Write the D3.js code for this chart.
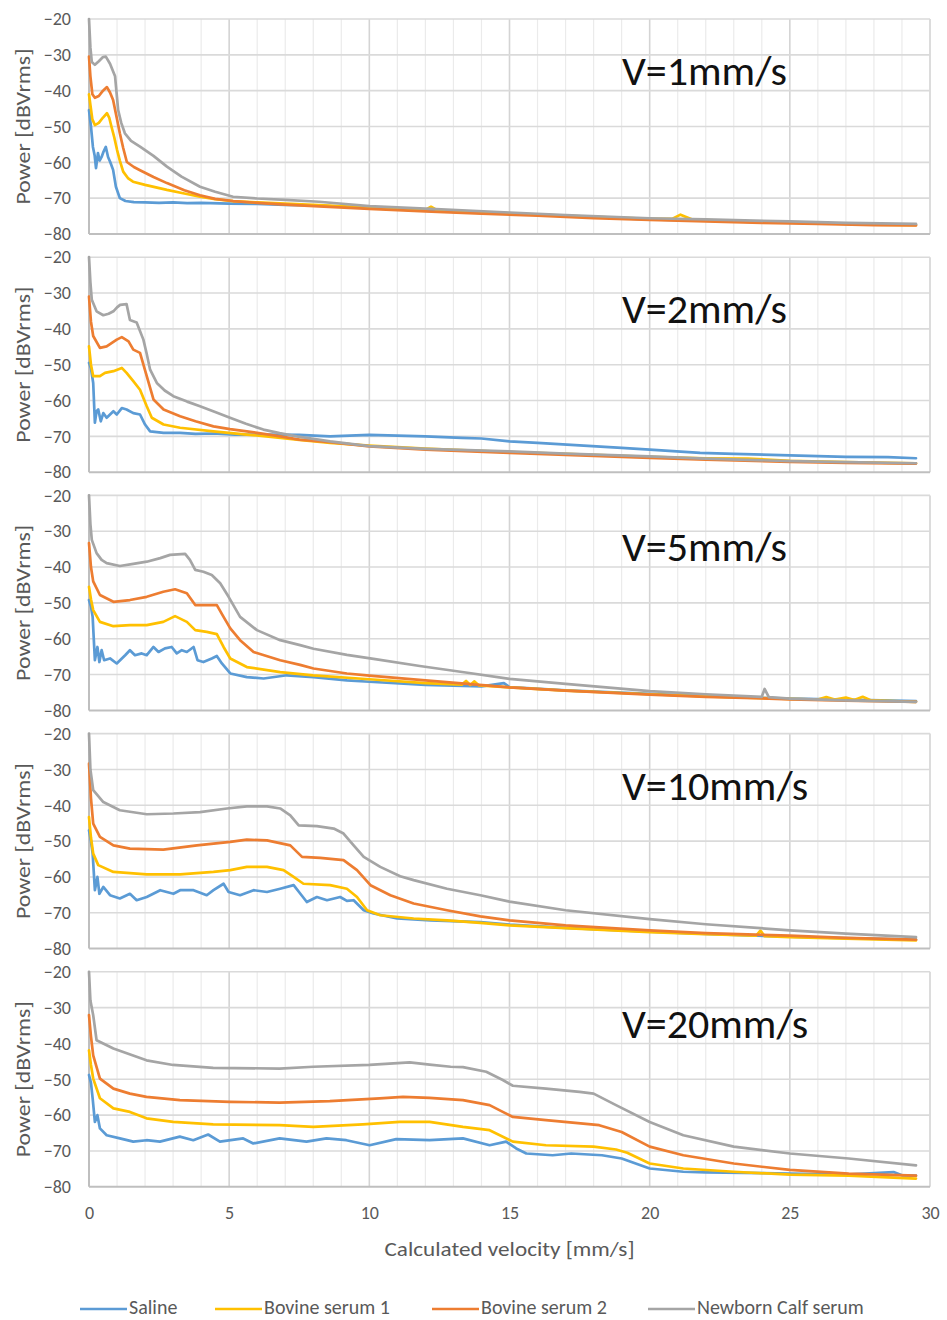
<!DOCTYPE html>
<html>
<head>
<meta charset="utf-8">
<script src="https://cdn.jsdelivr.net/npm/d3@7"></script>
<style>
  html, body { margin: 0; padding: 0; background: #fff; }
  svg { display: block; }
  text { font-family: Carlito, Calibri, Lato, "Open Sans", sans-serif; }
</style>
</head>
<body>
<svg id="chart" width="947" height="1320"></svg>
<script>
// ---- data: velocity [mm/s] vs power [dBVrms], one block per probe velocity ----
const panelLabels = ["V=1mm/s", "V=2mm/s", "V=5mm/s", "V=10mm/s", "V=20mm/s"];
const seriesNames = ["Saline", "Bovine serum 1", "Bovine serum 2", "Newborn Calf serum"];
const seriesColors = ["#5B9BD5", "#FFC000", "#ED7D31", "#A5A5A5"];
const yTicks = [-20, -30, -40, -50, -60, -70, -80];
const xTicks = [0, 5, 10, 15, 20, 25, 30];

// V = 1 mm/s
const saline1 = [[0,-45.4],[0.07,-50],[0.14,-55.7],[0.2,-58],[0.25,-61.6],[0.32,-57.4],[0.38,-59.5],[0.45,-58.5],[0.52,-57],[0.6,-55.7],[0.68,-58.5],[0.76,-60],[0.86,-62.1],[0.96,-66.8],[1.1,-70],[1.3,-70.8],[1.6,-71.1],[2,-71.2],[2.5,-71.3],[3,-71.2],[3.5,-71.4],[4,-71.3],[5,-71.5],[6,-71.6],[7,-71.9],[8,-72],[9,-72.4],[10,-72.8],[12,-73.5],[14,-74.1],[16,-74.7],[18,-75.3],[20,-75.9],[22,-76.3],[24,-76.7],[26,-77],[28,-77.3],[29.5,-77.4]];
const bovine1_1 = [[0,-41],[0.05,-44],[0.12,-48],[0.21,-49.6],[0.35,-49],[0.5,-47.5],[0.64,-46.3],[0.72,-47.5],[0.8,-50],[0.9,-53],[1.0,-56.5],[1.1,-59.5],[1.22,-62.6],[1.4,-64.5],[1.57,-65.4],[2,-66.3],[2.78,-67.7],[3.4,-68.7],[3.96,-69.6],[4.5,-70.3],[5.14,-70.8],[6,-71.2],[7,-71.5],[8.2,-71.9],[10,-72.6],[12,-73.3],[12.2,-72.4],[12.4,-73.3],[14,-73.9],[16,-74.6],[18,-75.2],[20,-75.8],[20.8,-75.8],[21.1,-74.6],[21.5,-75.9],[22,-76.1],[24,-76.6],[26,-77],[28,-77.4],[29.5,-77.5]];
const bovine2_1 = [[0,-30.5],[0.05,-36],[0.12,-41],[0.21,-42],[0.35,-41.5],[0.5,-40],[0.64,-39],[0.75,-40.5],[0.86,-42.6],[1.0,-48],[1.1,-51.9],[1.22,-56],[1.35,-59.9],[1.6,-61.3],[1.82,-62.2],[2.3,-64.1],[2.78,-65.8],[3.4,-67.8],[3.96,-69.2],[4.5,-70.2],[5.14,-70.8],[6,-71.3],[7,-71.8],[8.2,-72.3],[10,-73],[12,-73.7],[14,-74.3],[16,-74.9],[18,-75.6],[20,-76.1],[22,-76.5],[24,-76.9],[26,-77.2],[28,-77.5],[29.5,-77.6]];
const calf_1 = [[0,-20],[0.05,-28],[0.1,-32],[0.21,-32.8],[0.35,-31.8],[0.5,-30.6],[0.6,-30.5],[0.75,-32.5],[0.93,-36],[1.04,-45.4],[1.15,-49],[1.28,-51.9],[1.5,-54],[1.82,-55.6],[2.3,-58.2],[2.78,-61.2],[3.3,-64],[3.96,-66.8],[4.5,-68.2],[5.14,-69.6],[6,-70.1],[7,-70.5],[8.2,-71],[10,-72.2],[12,-72.9],[15,-74],[17,-74.7],[20,-75.6],[22,-75.9],[25,-76.5],[27,-76.9],[29.5,-77.2]];

// V = 2 mm/s
const saline2 = [[0,-49.5],[0.07,-51],[0.15,-55.1],[0.21,-66.2],[0.27,-63],[0.33,-62.5],[0.42,-65.8],[0.51,-63.5],[0.63,-64.8],[0.75,-63.9],[0.87,-63],[0.99,-63.9],[1.17,-62.1],[1.34,-62.5],[1.58,-63.5],[1.82,-63.9],[2.0,-66.7],[2.18,-68.6],[2.66,-69],[3.25,-69],[3.8,-69.3],[4.44,-69.2],[5.2,-69.5],[6.22,-69.5],[7.5,-69.6],[8.6,-70],[10,-69.6],[11,-69.8],[12,-70],[13.3,-70.4],[14,-70.6],[15,-71.4],[16,-71.8],[17.5,-72.5],[19,-73.2],[20,-73.7],[21.8,-74.6],[23,-74.9],[25,-75.3],[27,-75.7],[28.5,-75.8],[29.5,-76.1]];
const bovine1_2 = [[0,-44.9],[0.07,-50],[0.15,-53.2],[0.39,-53.2],[0.57,-52.3],[0.87,-51.8],[1.17,-50.9],[1.34,-52.3],[1.58,-54.6],[1.82,-57],[2.06,-61.6],[2.24,-64.8],[2.66,-66.7],[3.25,-67.6],[4.44,-68.6],[5.63,-69.5],[6.83,-70.4],[7.5,-71],[8.6,-71.8],[10,-72.6],[12,-73.4],[15,-74.4],[17,-74.9],[20,-75.7],[22,-76.1],[23.5,-76.2],[25,-76.8],[27,-77.2],[29.5,-77.5]];
const bovine2_2 = [[0,-31],[0.07,-38],[0.15,-42],[0.39,-45.3],[0.63,-44.9],[0.99,-43],[1.17,-42.3],[1.41,-43.5],[1.58,-45.8],[1.82,-46.7],[2.06,-53.2],[2.3,-59.7],[2.66,-62.5],[3.25,-64.4],[3.8,-65.8],[4.44,-67.2],[5.03,-68],[5.63,-68.6],[6.83,-70],[7.5,-70.9],[8.6,-71.6],[10,-72.8],[12,-73.7],[15,-74.6],[17,-75.2],[20,-76],[22,-76.5],[25,-77.1],[27,-77.4],[29.5,-77.6]];
const calf_2 = [[0,-20],[0.05,-27],[0.1,-31.9],[0.27,-35.1],[0.51,-36.2],[0.7,-35.8],[0.87,-35.1],[1.0,-34],[1.11,-33.3],[1.34,-33.1],[1.46,-37.5],[1.7,-38.2],[1.94,-43],[2.06,-47],[2.18,-51.4],[2.42,-55.1],[2.7,-57.2],[3.01,-58.8],[3.5,-60.3],[3.96,-61.6],[4.5,-63.2],[5.03,-64.8],[5.6,-66.5],[6.22,-68.1],[6.8,-69.1],[7.41,-70],[8.6,-71.4],[10,-72.7],[12,-73.5],[15,-74.2],[17,-74.8],[20,-75.6],[22,-76.2],[25,-76.9],[27,-77.2],[29.5,-77.5]];

// V = 5 mm/s
const saline3 = [[0,-49.2],[0.07,-51],[0.13,-53.9],[0.21,-66],[0.3,-62.3],[0.37,-66.5],[0.45,-63.2],[0.54,-66],[0.75,-65.5],[0.99,-66.9],[1.29,-64.6],[1.46,-63.2],[1.64,-64.6],[1.88,-64.1],[2.06,-64.6],[2.3,-62.3],[2.48,-63.7],[2.71,-62.7],[2.95,-62.3],[3.13,-64.1],[3.31,-63.2],[3.49,-63.7],[3.73,-62.3],[3.87,-66],[4.08,-66.5],[4.38,-65.5],[4.56,-64.8],[4.74,-66.9],[5.04,-69.7],[5.63,-70.7],[6.23,-71.1],[7.06,-70.2],[8.01,-70.7],[9.2,-71.6],[10,-72],[12,-72.9],[14,-73.3],[14.8,-72.4],[15,-73.5],[17,-74.4],[20,-75.4],[22,-76],[25,-76.7],[27,-77],[29.5,-77.4]];
const bovine1_3 = [[0,-45.5],[0.07,-49],[0.15,-52],[0.39,-55.3],[0.87,-56.5],[1.46,-56.2],[2.06,-56.2],[2.65,-55.3],[3.07,-53.7],[3.49,-55.3],[3.79,-57.6],[4.2,-58.1],[4.56,-58.7],[4.8,-62.3],[5.04,-65.5],[5.63,-67.9],[6.82,-69.3],[8,-70.2],[10,-71.3],[12,-72.4],[13.3,-72.8],[13.45,-71.8],[13.6,-72.9],[13.75,-71.9],[13.9,-73],[15,-73.6],[17,-74.5],[20,-75.5],[22,-76.1],[25,-76.8],[26,-77],[26.3,-76.3],[26.6,-77],[27,-76.4],[27.3,-77.1],[27.6,-76.2],[27.9,-77.2],[29.5,-77.6]];
const bovine2_3 = [[0,-33.3],[0.07,-40],[0.15,-44],[0.39,-47.8],[0.87,-49.7],[1.46,-49.2],[2.06,-48.3],[2.65,-46.9],[3.07,-46.2],[3.49,-47.3],[3.79,-50.6],[4.08,-50.6],[4.56,-50.6],[4.8,-53.9],[5.04,-57.1],[5.39,-60.4],[5.87,-63.7],[6.82,-66],[7.53,-67.3],[8.01,-68.3],[9.2,-69.7],[10,-70.3],[12,-71.6],[15,-73.6],[17,-74.5],[20,-75.6],[22,-76.2],[25,-76.9],[27,-77.3],[29.5,-77.6]];
const calf_3 = [[0,-20],[0.05,-28],[0.1,-32.4],[0.27,-36.1],[0.45,-38],[0.63,-38.9],[1.1,-39.7],[1.58,-39.1],[2.06,-38.5],[2.54,-37.5],[2.89,-36.6],[3.43,-36.3],[3.6,-38],[3.79,-40.8],[4.08,-41.3],[4.38,-42.2],[4.68,-44.5],[4.98,-48.3],[5.39,-53.9],[5.99,-57.6],[6.82,-60.4],[7.53,-61.8],[8.01,-62.8],[9.2,-64.5],[10.15,-65.6],[11.8,-67.6],[13.5,-69.5],[15,-71.2],[17,-72.6],[20,-74.6],[22,-75.5],[24,-76.2],[24.1,-74],[24.25,-76.3],[25,-76.7],[27,-77.2],[29.5,-77.6]];

// V = 10 mm/s
const saline4 = [[0,-47],[0.07,-50],[0.13,-53.5],[0.21,-63.7],[0.3,-60],[0.37,-64.7],[0.51,-62.8],[0.75,-65.1],[1.1,-66],[1.46,-64.7],[1.7,-66.5],[2.06,-65.6],[2.54,-63.7],[3.01,-64.7],[3.25,-63.7],[3.73,-63.7],[4.2,-65.1],[4.44,-63.7],[4.8,-61.9],[4.98,-64.2],[5.39,-65.1],[5.87,-63.7],[6.35,-64.2],[6.82,-63.3],[7.3,-62.3],[7.54,-64.7],[7.77,-67],[8.13,-65.6],[8.49,-66.5],[8.96,-65.6],[9.2,-66.7],[9.44,-66.5],[9.8,-69.3],[10.15,-70.2],[10.99,-71.6],[12.18,-72.1],[13.96,-72.6],[15,-73.3],[17,-74.2],[20,-75.3],[22,-75.9],[25,-76.7],[27,-77.1],[29.5,-77.5]];
const bovine1_4 = [[0,-43.3],[0.07,-49],[0.15,-53.5],[0.33,-56.7],[0.87,-58.6],[2.06,-59.3],[3.25,-59.3],[4.44,-58.6],[5.04,-58.1],[5.63,-57.2],[6.35,-57.2],[6.94,-58.1],[7.3,-60],[7.65,-61.9],[8.6,-62.3],[9.2,-63.3],[9.56,-65.6],[9.92,-69.3],[10.39,-70.7],[11.58,-71.6],[12.77,-72.1],[13.96,-72.8],[15,-73.5],[17,-74.3],[20,-75.4],[22,-76],[23.8,-76.4],[23.95,-75],[24.1,-76.5],[25,-76.8],[27,-77.2],[29.5,-77.7]];
const bovine2_4 = [[0,-28.4],[0.07,-38],[0.15,-45.1],[0.39,-48.8],[0.87,-51.2],[1.46,-52.1],[2.65,-52.4],[3.85,-51.2],[5.04,-50.2],[5.63,-49.6],[6.35,-49.8],[7.18,-51.2],[7.6,-54.4],[8.25,-54.7],[9.08,-55.3],[9.56,-58.1],[10.04,-62.3],[10.75,-65.1],[11.58,-67.4],[12.77,-69.3],[13.96,-71],[15,-72.1],[17,-73.5],[20,-74.9],[22,-75.7],[25,-76.4],[27,-77],[29.5,-77.5]];
const calf_4 = [[0,-20],[0.05,-30],[0.15,-35.8],[0.51,-39.1],[1.1,-41.4],[2.06,-42.5],[3.01,-42.3],[3.96,-41.9],[4.92,-40.9],[5.63,-40.3],[6.35,-40.3],[6.82,-40.9],[7.18,-42.8],[7.48,-45.6],[8.13,-45.8],[8.73,-46.5],[9.08,-47.9],[9.44,-51.2],[9.8,-54.4],[10.39,-57.2],[11.1,-59.8],[11.58,-60.9],[12.77,-63.3],[13.96,-65.1],[15,-66.9],[17,-69.3],[20,-71.8],[22,-73.2],[25,-74.9],[27,-75.8],[29.5,-76.8]];

// V = 20 mm/s
const saline5 = [[0,-48.8],[0.07,-51],[0.13,-55.3],[0.21,-61.9],[0.3,-60],[0.39,-63.7],[0.63,-65.6],[1.1,-66.5],[1.58,-67.4],[2.05,-67],[2.53,-67.4],[3.24,-66],[3.72,-67],[4.25,-65.4],[4.67,-67.4],[5.5,-66.5],[5.86,-67.9],[6.8,-66.5],[7.76,-67.4],[8.47,-66.5],[9.18,-67],[10.01,-68.4],[10.96,-66.7],[12.15,-67],[13.34,-66.5],[14.29,-68.4],[14.88,-67.4],[15.24,-69.3],[15.6,-70.7],[16.54,-71.2],[17.2,-70.7],[18.3,-71.2],[19,-72.1],[20,-74.9],[21.2,-75.8],[22,-76],[25,-76.3],[27,-76.6],[28.7,-75.9],[29,-76.8],[29.5,-76.9]];
const bovine1_5 = [[0,-41.9],[0.07,-46],[0.15,-49.8],[0.39,-55.3],[0.87,-58.1],[1.46,-59.1],[2.05,-60.9],[3,-61.9],[4.43,-62.6],[6.8,-62.8],[8,-63.3],[9.77,-62.6],[11.08,-61.9],[12.15,-61.9],[13.34,-63.3],[14.29,-64.2],[15.12,-67.4],[16.3,-68.4],[18,-68.8],[18.8,-69.6],[19.2,-70.5],[20,-73.5],[21.2,-74.9],[23,-75.8],[25,-76.6],[27.1,-76.9],[29.5,-77.7]];
const bovine2_5 = [[0,-32.1],[0.07,-38],[0.15,-43.3],[0.39,-49.8],[0.87,-52.6],[1.46,-54],[2.05,-54.9],[3.24,-55.8],[5.02,-56.3],[6.8,-56.5],[8.59,-56.1],[10.37,-55.3],[11.2,-54.9],[12.15,-55.2],[13.34,-55.8],[14.29,-57.2],[14.76,-59.1],[15.12,-60.5],[16.3,-61.4],[18.2,-62.8],[19,-64.7],[20,-68.8],[21.2,-71.2],[23,-73.5],[25,-75.3],[27.1,-76.3],[29.5,-76.9]];
const calf_5 = [[0,-20],[0.05,-28],[0.15,-32.1],[0.27,-39.1],[0.87,-41.4],[2.05,-44.7],[3,-46],[4.43,-46.8],[6.8,-47],[8,-46.5],[10,-46],[11.44,-45.3],[12.15,-45.9],[12.9,-46.5],[13.34,-46.6],[14.17,-47.9],[14.76,-50.2],[15.12,-51.8],[16.3,-52.6],[17.5,-53.5],[18,-54],[18.8,-57.2],[20,-61.9],[21.2,-65.6],[23,-68.8],[25,-70.7],[27.1,-72.1],[29.5,-74]];

const panelSeries = [
  [saline1, bovine1_1, bovine2_1, calf_1],
  [saline2, bovine1_2, bovine2_2, calf_2],
  [saline3, bovine1_3, bovine2_3, calf_3],
  [saline4, bovine1_4, bovine2_4, calf_4],
  [saline5, bovine1_5, bovine2_5, calf_5]
];

// ---- layout ----
const svg = d3.select("#chart");
const left = 89, right = 930;
const panelTop0 = 19, panelStep = 238.2, panelH = 215;
const axisGray = "#595959";

const x = d3.scaleLinear().domain([0, 30]).range([left, right]);

panelSeries.forEach((series, i) => {
  const top = panelTop0 + i * panelStep;
  const y = d3.scaleLinear().domain([-80, -20]).range([top + panelH, top]);
  const g = svg.append("g");

  // vertical grid: light every 1 mm/s, darker every 5 mm/s
  g.append("g").selectAll("line")
    .data(d3.range(1, 31))
    .join("line")
    .attr("x1", d => x(d)).attr("x2", d => x(d))
    .attr("y1", top).attr("y2", top + panelH)
    .attr("stroke", d => d % 5 === 0 ? "#D4D4D4" : "#EBEBEB")
    .attr("stroke-width", d => d % 5 === 0 ? 1.6 : 1.2);

  // horizontal grid every 10 dB
  g.append("g").selectAll("line")
    .data(yTicks.filter(t => t !== -80))
    .join("line")
    .attr("x1", left).attr("x2", right)
    .attr("y1", d => y(d)).attr("y2", d => y(d))
    .attr("stroke", "#DADADA").attr("stroke-width", 1.6);

  // axis lines
  g.append("line")
    .attr("x1", left).attr("x2", right)
    .attr("y1", y(-80)).attr("y2", y(-80))
    .attr("stroke", "#BFBFBF").attr("stroke-width", 2);
  g.append("line")
    .attr("x1", left).attr("x2", left)
    .attr("y1", top).attr("y2", y(-80))
    .attr("stroke", "#BFBFBF").attr("stroke-width", 2);

  // y axis tick labels
  const yAxis = d3.axisLeft(y).tickValues(yTicks).tickSize(0).tickPadding(18);
  const ya = g.append("g").attr("transform", `translate(${left},0)`).call(yAxis);
  ya.select(".domain").remove();
  ya.selectAll("text")
    .attr("fill", axisGray)
    .style("font-size", "18px")
    .style("font-family", "Carlito, Calibri, Lato, sans-serif");

  // y axis title
  g.append("text")
    .attr("transform", `translate(30,${top + panelH / 2}) rotate(-90)`)
    .attr("text-anchor", "middle")
    .attr("fill", axisGray)
    .style("font-size", "20px")
    .attr("textLength", 156)
    .attr("lengthAdjust", "spacingAndGlyphs")
    .text("Power [dBVrms]");

  // series lines
  const line = d3.line().x(d => x(d[0])).y(d => y(d[1]));
  series.forEach((pts, k) => {
    g.append("path")
      .datum(pts)
      .attr("d", line)
      .attr("fill", "none")
      .attr("stroke", seriesColors[k])
      .attr("stroke-width", 2.7)
      .attr("stroke-linejoin", "round")
      .attr("stroke-linecap", "round");
  });

  // velocity label
  g.append("text")
    .attr("x", 622)
    .attr("y", top + 66)
    .attr("fill", "#111")
    .style("font-size", "42px")
    .text(panelLabels[i]);
});

// x axis under the last panel
const lastBottom = panelTop0 + 4 * panelStep + panelH;
const xAxis = d3.axisBottom(x).tickValues(xTicks).tickSize(0).tickPadding(19);
const xa = svg.append("g").attr("transform", `translate(0,${lastBottom})`).call(xAxis);
xa.select(".domain").remove();
xa.selectAll("text")
  .attr("fill", axisGray)
  .style("font-size", "18px")
  .style("font-family", "Carlito, Calibri, Lato, sans-serif");

svg.append("text")
  .attr("x", (left + right) / 2)
  .attr("y", 1256)
  .attr("text-anchor", "middle")
  .attr("fill", axisGray)
  .style("font-size", "20px")
  .attr("textLength", 250)
  .attr("lengthAdjust", "spacingAndGlyphs")
  .text("Calculated velocity [mm/s]");

// legend
const legendX = [80, 215, 432, 648];
const legend = svg.append("g");
seriesNames.forEach((name, k) => {
  legend.append("line")
    .attr("x1", legendX[k]).attr("x2", legendX[k] + 47)
    .attr("y1", 1309).attr("y2", 1309)
    .attr("stroke", seriesColors[k]).attr("stroke-width", 2.7);
  legend.append("text")
    .attr("x", legendX[k] + 49)
    .attr("y", 1314)
    .attr("fill", axisGray)
    .style("font-size", "20px")
    .text(name);
});
</script>
</body>
</html>
